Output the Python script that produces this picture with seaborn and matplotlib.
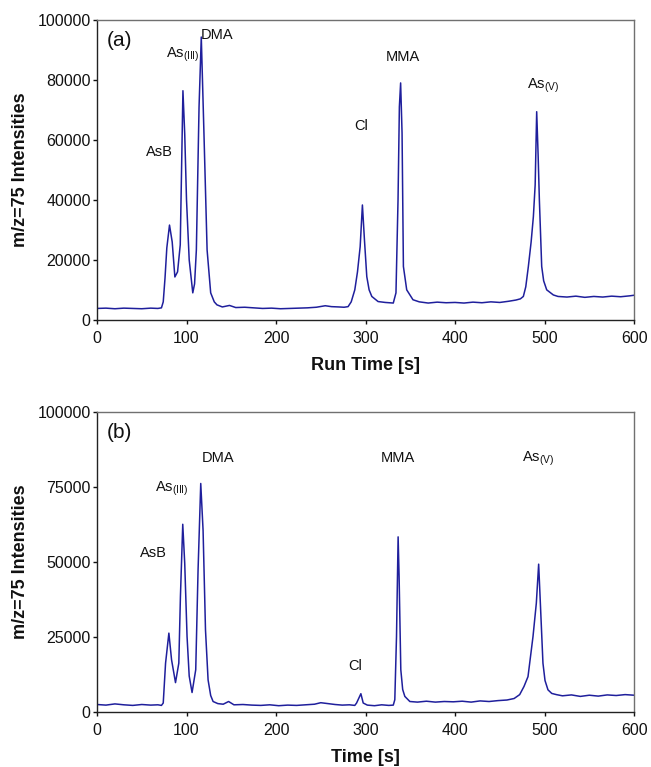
import matplotlib
matplotlib.use("Agg")
import matplotlib.pyplot as plt
import seaborn as sns

# panel (a) trace
a_time = [0, 10, 20, 30, 40, 50, 60, 68, 72, 74, 76, 78, 81, 84, 87, 90, 93, 96, 98, 100,
          103, 107, 109, 111, 114, 116.5, 119.5, 123, 127, 131, 134, 140, 148, 155, 165, 175,
          185, 195, 205, 215, 225, 235, 245, 255, 262, 270, 276, 280.5, 284, 288, 291, 294,
          296.5, 298.8, 301.4, 304, 307, 314, 322, 331, 334, 336.3, 337.8, 339.2, 340.8, 342.3,
          346, 353, 360, 370, 380, 390, 400, 410, 420, 430, 440, 450, 460, 468, 473, 476.3,
          479, 481.9, 485, 487.5, 489.5, 491.2, 492.8, 494.2, 496.8, 499, 502.4, 509.8, 515,
          525, 535, 545, 555, 565, 575, 585, 595, 600]
a_int = [3800, 3900, 3700, 3900, 3800, 3700, 3900, 3800, 4000, 6000, 14000, 24000, 31600,
         26000, 14300, 16000, 25000, 76400, 62000, 40000, 20000, 9000, 12000, 23300, 71000,
         94300, 62000, 23300, 9000, 6000, 5000, 4300, 4800, 4100, 4200, 4000, 3800, 3900, 3700,
         3800, 3900, 4000, 4200, 4700, 4400, 4300, 4200, 4400, 6000, 10000, 16000, 24400, 38300,
         26600, 14400, 10000, 7800, 6100, 5800, 5600, 9000, 40000, 71000, 79000, 62300, 17800,
         10000, 6700, 6000, 5600, 5900, 5700, 5800, 5600, 5900, 5700, 6000, 5800, 6200, 6600,
         7000, 7800, 11000, 17800, 26000, 34400, 45000, 69400, 55000, 40000, 17800, 13000,
         10000, 8300, 7800, 7600, 7900, 7500, 7800, 7600, 7900, 7700, 8000, 8200]

# panel (b) trace
b_time = [0, 10, 20, 30, 40, 50, 60, 68, 72, 74, 76.6, 80.3, 83.3, 87.7, 91.4, 93.2, 95.8, 98,
          100.6, 103, 106.2, 110.3, 112.9, 115.9, 118.5, 121.2, 124.1, 127, 129.7, 135, 141,
          147, 153, 163, 173, 183, 193, 203, 213, 223, 233, 243, 250, 258, 266, 274, 282, 288,
          290, 294.8, 297.4, 302, 310, 318, 326, 331, 332.7, 334.6, 336.4, 337.5, 339.4, 341.5,
          343.9, 349.5, 358, 368, 378, 388, 398, 408, 418, 428, 438, 448, 458, 466, 472.2, 477,
          481.5, 487.1, 490.8, 493.4, 495.3, 498.2, 500.5, 503.8, 508, 513.2, 520, 530, 540,
          550, 560, 570, 580, 590, 600]
b_int = [2500, 2300, 2700, 2400, 2200, 2500, 2300, 2400, 2200, 3000, 16300, 26300, 17400, 9800,
         16300, 38500, 62600, 49600, 25200, 12000, 6500, 14100, 47300, 76200, 60600, 27400,
         10700, 5500, 3500, 2800, 2600, 3500, 2400, 2500, 2300, 2200, 2400, 2100, 2300, 2200,
         2400, 2600, 3100, 2800, 2500, 2300, 2400, 2200, 3000, 6100, 3000, 2300, 2100, 2400,
         2200, 2300, 4100, 25200, 58400, 45100, 14100, 7500, 5200, 3500, 3300, 3600, 3300,
         3500, 3400, 3600, 3300, 3700, 3500, 3800, 4000, 4500, 5800, 8500, 11800, 25200, 36300,
         49300, 36300, 16300, 10500, 7400, 6200, 5800, 5400, 5700, 5200, 5600, 5300, 5700, 5500,
         5800, 5600]

# peak labels: (text, x, y)
a_labels = [("AsB", 70, 56000), ("As$_{\\mathregular{(III)}}$", 96, 88300),
            ("DMA", 134, 95000), ("Cl", 295, 64600), ("MMA", 342, 87700),
            ("As$_{\\mathregular{(V)}}$", 498, 78000)]
b_labels = [("AsB", 62.5, 53000), ("As$_{\\mathregular{(III)}}$", 84, 74300),
            ("DMA", 135, 84600), ("Cl", 288, 15300), ("MMA", 336, 84600),
            ("As$_{\\mathregular{(V)}}$", 493, 84600)]

sns.set_style("white")
plt.rcParams['font.family'] = ['Liberation Sans', 'DejaVu Sans']
plt.rcParams['text.color'] = '#111111'
plt.rcParams['axes.labelcolor'] = '#111111'

LINE = "#1f1f9c"

fig = plt.figure(figsize=(6.51, 7.67), dpi=100)
ax_a = fig.add_axes([0.149, 0.583, 0.825, 0.391])
ax_b = fig.add_axes([0.149, 0.0717, 0.825, 0.391])

panels = [
    (ax_a, a_time, a_int, a_labels, "(a)", "Run Time [s]", [0, 20000, 40000, 60000, 80000, 100000]),
    (ax_b, b_time, b_int, b_labels, "(b)", "Time [s]", [0, 25000, 50000, 75000, 100000]),
]

for ax, t, y, labels, tag, xlab, yticks in panels:
    sns.lineplot(x=t, y=y, ax=ax, color=LINE, linewidth=1.1)
    ax.set_xlim(0, 600)
    ax.set_ylim(0, 100000)
    ax.set_xticks(range(0, 601, 100))
    ax.set_yticks(yticks)
    ax.tick_params(axis='both', labelsize=11.5, direction='out', length=3, width=1,
                   bottom=True, left=True, colors='#111111')
    ax.tick_params(axis='y', pad=1.5)
    ax.tick_params(axis='x', pad=5)
    for side in ['left', 'bottom']:
        ax.spines[side].set_color('#222222')
        ax.spines[side].set_linewidth(1)
    for side in ['top', 'right']:
        ax.spines[side].set_color('#707070')
        ax.spines[side].set_linewidth(1)
    ax.set_xlabel(xlab, fontsize=13, fontweight='bold', labelpad=8)
    ax.set_ylabel("m/z=75 Intensities", fontsize=13, fontweight='bold', labelpad=6)
    ax.text(11, 93300, tag, fontsize=15, ha='left', va='center')
    for txt, lx, ly in labels:
        ax.text(lx, ly, txt, fontsize=10.5, ha='center', va='center')

fig.savefig("out.png", dpi=100)
